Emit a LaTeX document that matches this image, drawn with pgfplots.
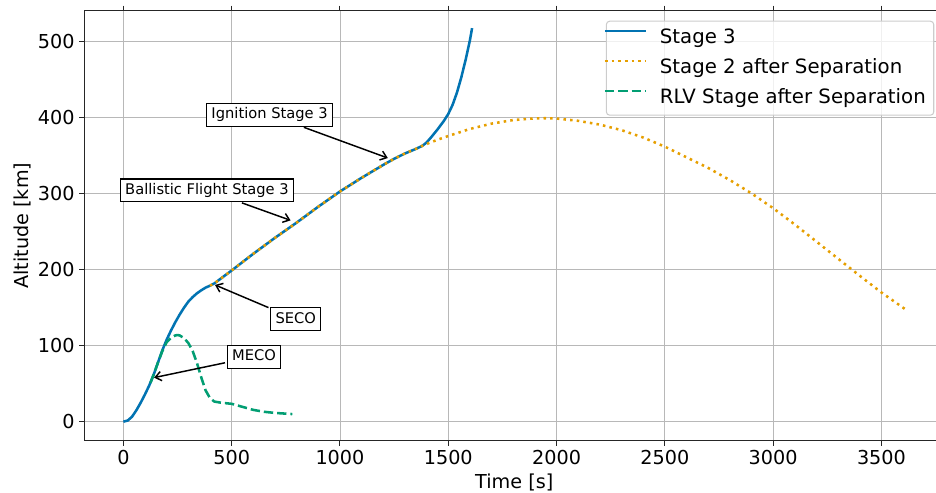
\documentclass[border=0pt]{standalone}
\usepackage{fontspec}
\setmainfont{DejaVu Sans}
\usepackage{pgfplots}
\pgfplotsset{compat=1.18}
\usetikzlibrary{arrows.meta}
\definecolor{cbblue}{HTML}{0173B2}
\definecolor{cborange}{HTML}{E69F00}
\definecolor{cbgreen}{HTML}{029E73}
\tikzset{
  ann/.style={draw=black, fill=white, line width=0.8pt, font=\fontsize{11}{13}\selectfont, inner xsep=3.5pt, inner ysep=3pt, text height=8.5pt, text depth=2.5pt},
  arr/.style={-{Straight Barb[length=4.5pt,width=7pt]}, line width=1.1pt, black, shorten <=1.5pt},
}
\pgfplotstableread{
t a
0 0
20 1.5
40 6.5
60 15
80 25
100 36
120 48
140 62
160 78
180 94
200 108
220 120
240 131
260 141
280 150
300 158
320 164
340 169
360 173
380 176.5
400 179
420 182
500 199
600 221
700 242
800 262
900 283
1000 303
1100 321
1200 338
1250 346
1300 353
1350 359
1380 363
1400 367.5
1420 374
1450 384.5
1480 396
1500 405
1520 417
1540 433
1560 453
1580 476
1600 502
1610 518
}\stagethree
\pgfplotstableread{
t a
400 179
420 182
500 199
600 221
700 242
800 262
900 283
1000 303
1100 321
1200 338
1250 346
1300 353
1350 359
1380 363
1400 365.5
1450 371
1500 376
1600 385.3
1700 392.3
1800 397
1900 399.2
1950 399.4
2000 399
2100 396
2200 391
2300 383.7
2400 374
2500 362
2600 348
2700 334
2800 318
2900 300.5
3000 281
3100 259.5
3200 237
3300 214.5
3400 192
3500 170
3610 148
}\stagetwo
\pgfplotstableread{
t a
125 51
140 62
160 78
180 93
200 104.5
220 110.5
240 113.5
250 114
260 113.5
280 110
300 103.5
320 93
340 77
360 58
380 41
400 31
420 26.5
450 25
500 23.5
550 19.5
600 15.5
650 13
700 11.5
780 10
}\rlv
\begin{document}
\begin{tikzpicture}
\begin{axis}[
  scale only axis, width=645pt, height=322.5pt,
  xmin=-180.5, xmax=3790, ymin=-25, ymax=541,
  xtick={0,500,...,3500}, ytick={0,100,...,500},
  grid=major, major grid style={color=black!28, line width=0.6pt},
  tick align=outside, major tick length=3.7pt,
  axis line style={black!85, line width=0.8pt},
  every tick/.style={black!85, line width=0.8pt},
  tick label style={font=\fontsize{14.4}{17}\selectfont},
  /pgf/number format/assume math mode=true,
  /pgf/number format/1000 sep={},
  xlabel={Time [s]}, ylabel={Altitude [km]},
  every axis x label/.style={at={(axis description cs:0.5,-0.0961)}, anchor=center, font=\fontsize{14.4}{17}\selectfont},
  every axis y label/.style={at={(axis description cs:-0.0724,0.5)}, rotate=90, anchor=center, font=\fontsize{14.4}{17}\selectfont},
  legend style={at={(axis description cs:0.9884,0.9767)}, anchor=north east, draw=black!20, line width=0.8pt, fill=white, fill opacity=0.8, text opacity=1, rounded corners=2.5pt, font=\fontsize{14.8}{17}\selectfont, inner xsep=6pt, inner ysep=5.5pt, row sep=8pt, column sep=10.5pt, nodes={inner sep=0pt, text height=11pt, text depth=3.5pt}},
  legend cell align=left,
  legend image code/.code={\path (0pt,0pt) (21.75pt,0pt); \draw[#1,overlay] (-8pt,5.3pt) -- (22.75pt,5.3pt);},
]
\addplot[cbblue, line width=1.9pt] table[x=t,y=a] {\stagethree};
\addlegendentry{Stage 3}
\addplot[cborange, line width=1.9pt, dash pattern=on 1.9pt off 3.1pt] table[x=t,y=a] {\stagetwo};
\addlegendentry{Stage 2 after Separation}
\addplot[cbgreen, line width=1.9pt, dash pattern=on 7pt off 3pt] table[x=t,y=a] {\rlv};
\addlegendentry{RLV Stage after Separation}
\node[ann] (ign) at (axis cs:675,404) {Ignition Stage 3};
\draw[arr] (ign) -- (axis cs:1221,347);
\node[ann] (bal) at (axis cs:386,304.5) {Ballistic Flight Stage 3};
\draw[arr] (bal) -- (axis cs:772,265);
\node[ann] (seco) at (axis cs:795.6,135) {SECO};
\draw[arr] (seco) -- (axis cs:423,180);
\node[ann] (meco) at (axis cs:603,85.5) {MECO};
\draw[arr] (meco) -- (axis cs:142,58);
\coordinate (bl) at (rel axis cs:0,0);
\coordinate (tr) at (rel axis cs:1,1);
\end{axis}
\pgfresetboundingbox
\path[use as bounding box] ([shift={(-63.2pt,-39.2pt)}]bl) rectangle ([shift={(-6.2pt,8.0pt)}]tr);
\end{tikzpicture}
\end{document}
